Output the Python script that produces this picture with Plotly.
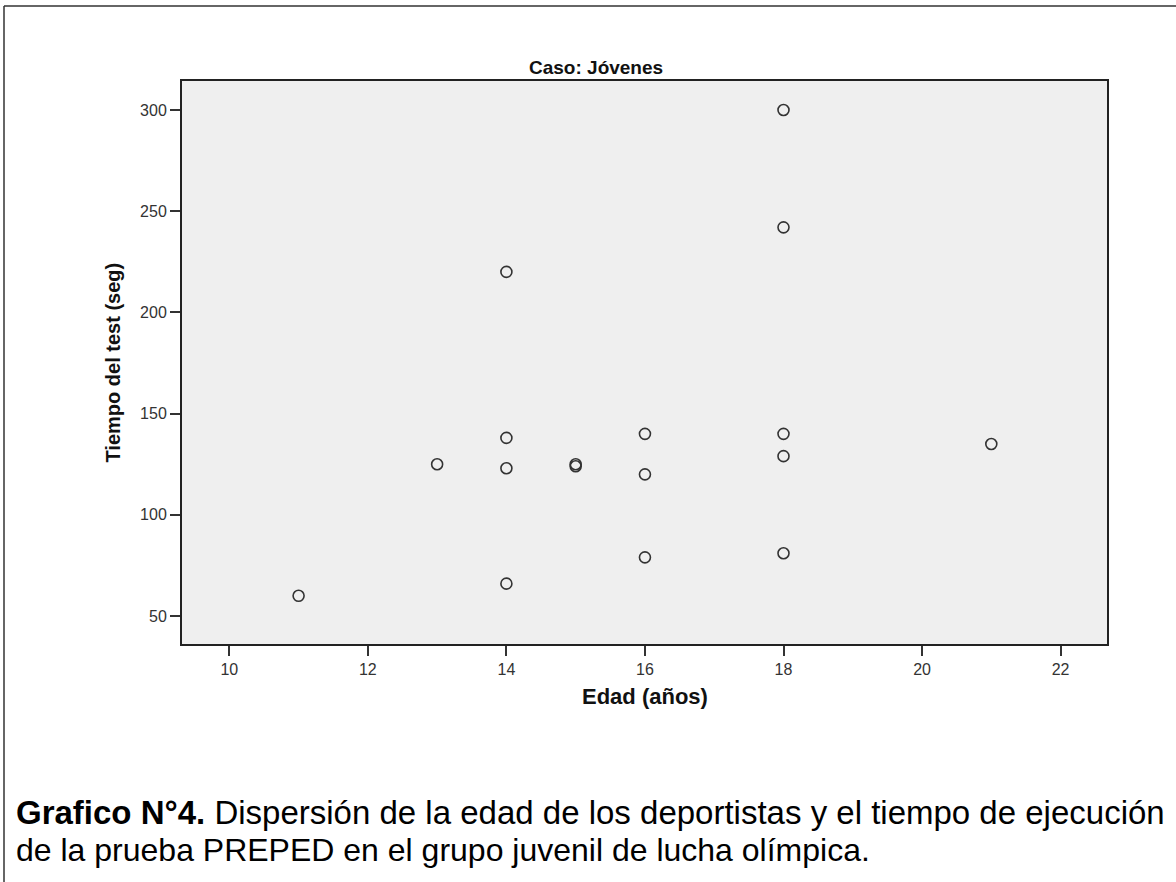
import plotly.graph_objects as go

# Data
edad = [11, 13, 14, 14, 14, 14, 15, 15, 16, 16, 16, 18, 18, 18, 18, 18, 21]
tiempo = [60, 125, 220, 138, 123, 66, 124, 125, 140, 120, 79, 300, 242, 140, 129, 81, 135]

x_ticks = [10, 12, 14, 16, 18, 20, 22]
y_ticks = [50, 100, 150, 200, 250, 300]

titulo = "Caso: Jóvenes"
x_title = "Edad (años)"
y_title = "Tiempo del test (seg)"
caption_1 = "<b>Grafico N°4.</b> Dispersión de la edad de los deportistas y el tiempo de ejecución"
caption_2 = "de la prueba PREPED en el grupo juvenil de lucha olímpica."

W, H = 1176, 882
L, R, T, B = 182, 1107, 81, 644  # plot area in pixels


def px(x):
    return (x - L) / (R - L)


def py(y):
    return (B - y) / (B - T)


FONT = "Liberation Sans, Arial, sans-serif"

fig = go.Figure()
fig.add_trace(go.Scatter(
    x=edad, y=tiempo, mode="markers",
    marker=dict(symbol="circle-open", size=11, color="#333333",
                line=dict(width=1.6, color="#333333")),
    showlegend=False, hoverinfo="x+y",
))

axis_common = dict(
    showgrid=False, zeroline=False, showline=True, linecolor="#222222",
    linewidth=2, mirror=True, ticks="outside", ticklen=10, tickwidth=2,
    tickcolor="#333333", tickfont=dict(family=FONT, size=16, color="#333333"),
)

fig.update_layout(
    width=W, height=H,
    margin=dict(l=L, r=W - R, t=T, b=H - B, pad=0),
    plot_bgcolor="#EFEFEF", paper_bgcolor="white",
    xaxis=dict(range=[9.317, 22.67], tickvals=x_ticks, **axis_common),
    yaxis=dict(range=[36.2, 314.3], tickvals=y_ticks, **axis_common),
    font=dict(family=FONT, color="#000000"),
)

annotations = [
    dict(text="<b>" + titulo + "</b>", x=px(596), y=py(67), xref="paper", yref="paper",
         showarrow=False, xanchor="center", yanchor="middle",
         font=dict(family=FONT, size=19, color="#111111")),
    dict(text="<b>" + x_title + "</b>", x=px(645), y=py(697), xref="paper", yref="paper",
         showarrow=False, xanchor="center", yanchor="middle",
         font=dict(family=FONT, size=22, color="#111111")),
    dict(text="<b>" + y_title + "</b>", x=px(112), y=py(362.5), xref="paper", yref="paper",
         showarrow=False, xanchor="center", yanchor="middle", textangle=-90,
         font=dict(family=FONT, size=20, color="#111111")),
    dict(text=caption_1, x=px(14), y=py(812), xref="paper", yref="paper",
         showarrow=False, xanchor="left", yanchor="middle",
         font=dict(family=FONT, size=33, color="#000000")),
    dict(text=caption_2, x=px(14), y=py(850), xref="paper", yref="paper",
         showarrow=False, xanchor="left", yanchor="middle",
         font=dict(family=FONT, size=32, color="#000000")),
]
fig.update_layout(annotations=annotations)

# outer frame of the figure (left and top edges)
fig.add_shape(type="line", xref="paper", yref="paper",
              x0=px(4), y0=py(882), x1=px(4), y1=py(6),
              line=dict(color="#333333", width=1.5))
fig.add_shape(type="line", xref="paper", yref="paper",
              x0=px(4), y0=py(6), x1=px(1176), y1=py(6),
              line=dict(color="#333333", width=1.5))

fig.write_html(
    "out.html",
    config={"displayModeBar": False},
    post_script="document.body.style.margin='0';document.body.style.overflow='hidden';",
)
